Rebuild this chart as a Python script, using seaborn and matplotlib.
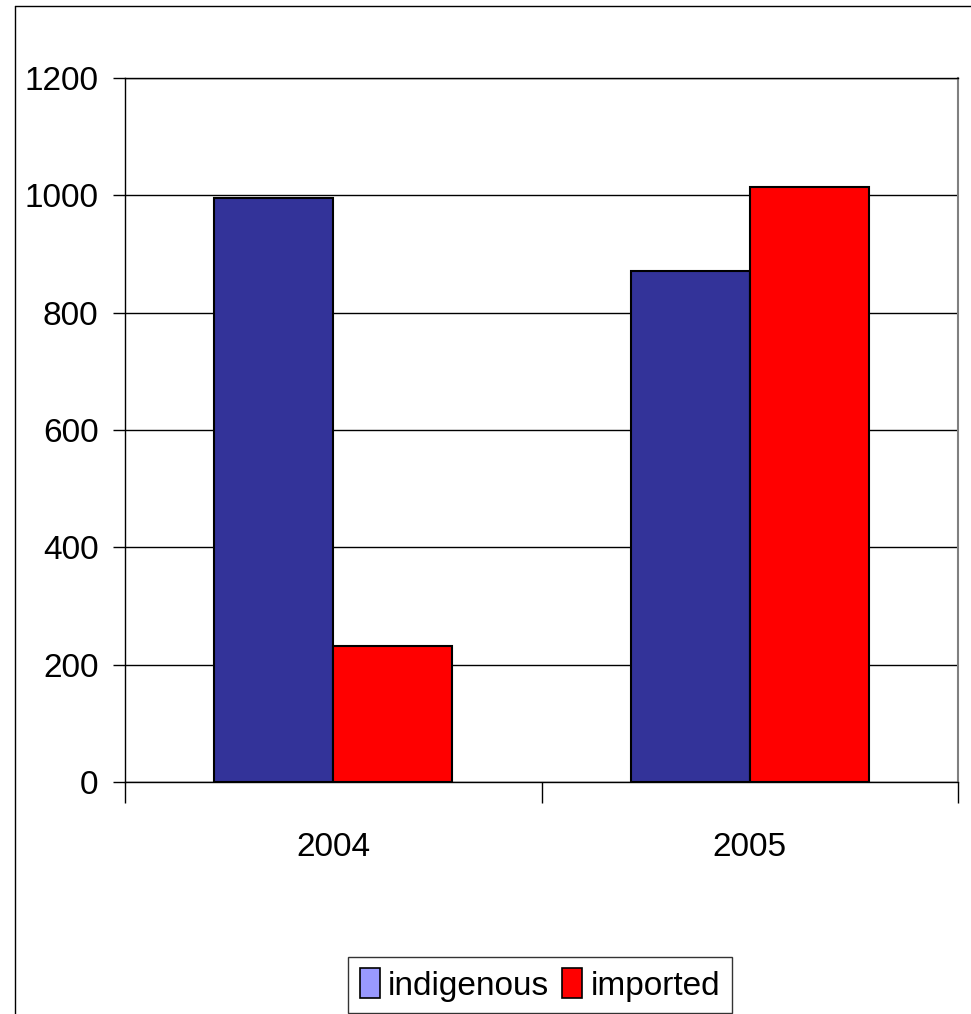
import numpy as np
import pandas as pd
import matplotlib
matplotlib.use('Agg')
import matplotlib.pyplot as plt
import matplotlib.patches as mpatches
import matplotlib.lines as mlines
import seaborn as sns

years = ['2004', '2005']
series = ['indigenous', 'imported']
indigenous = [995, 871]
imported = [232, 1014]
bar_colors = ['#333399', '#FF0000']
legend_colors = ['#9999FF', '#FF0000']

df = pd.DataFrame({
    'year': years * 2,
    'source': [series[0]] * 2 + [series[1]] * 2,
    'value': indigenous + imported,
})

sns.set_style('white', {'xtick.bottom': True, 'ytick.left': True,
                        'text.color': 'black', 'xtick.color': 'black', 'ytick.color': 'black'})
plt.rcParams['font.family'] = ['Liberation Sans Narrow', 'Liberation Sans', 'DejaVu Sans']

fig = plt.figure(figsize=(9.71, 10.14), dpi=100)
ax = fig.add_axes([125 / 971, 1 - 782 / 1014, (958 - 125) / 971, (782 - 78) / 1014])

sns.barplot(data=df, x='year', y='value', hue='source', palette=bar_colors,
            width=0.572, gap=0, edgecolor='black', linewidth=1.5,
            saturation=1, legend=False, ax=ax)

ax.set_xlim(-0.5, 1.5)
ax.set_ylim(0, 1200)
ax.set_yticks(np.arange(0, 1201, 200))
ax.yaxis.grid(True, color='black', linewidth=1)
ax.set_axisbelow(True)
ax.set_xlabel('')
ax.set_ylabel('')

# ticks at category boundaries, labels at centers
ax.set_xticks([-0.5, 0.5, 1.5])
ax.set_xticklabels(['', '', ''])
ax.set_xticks([0, 1], minor=True)
ax.set_xticklabels(years, minor=True)
ax.tick_params(axis='x', which='major', direction='out', length=15, width=1, color='black')
ax.tick_params(axis='x', which='minor', length=0, pad=36, labelsize=24, labelcolor='black')
ax.tick_params(axis='y', direction='out', length=9, width=1, color='black', pad=10,
               labelsize=24, labelcolor='black')

for s in ['left', 'bottom', 'top']:
    ax.spines[s].set_color('black')
    ax.spines[s].set_linewidth(1)
ax.spines['right'].set_color('#808080')
ax.spines['right'].set_linewidth(1.5)

handles = [mpatches.Patch(facecolor=c, edgecolor='black', linewidth=1.2, label=l)
           for c, l in zip(legend_colors, series)]
leg = fig.legend(handles=handles, loc='center', bbox_to_anchor=(540 / 971, 1 - 985 / 1014),
                 ncol=2, fontsize=24, frameon=True, fancybox=False, edgecolor='black',
                 handlelength=0.6, handleheight=1.0, handletextpad=0.25, columnspacing=0.4,
                 borderpad=0.35, borderaxespad=0)
leg.get_frame().set_linewidth(1)
for t in leg.get_texts():
    t.set_color('black')

# outer chart frame
fig.add_artist(mlines.Line2D([15 / 971, 15 / 971], [0, 1 - 6 / 1014], color='black', linewidth=1))
fig.add_artist(mlines.Line2D([15 / 971, 1], [1 - 6 / 1014, 1 - 6 / 1014], color='black', linewidth=1))

fig.savefig('out.png', dpi=100)
